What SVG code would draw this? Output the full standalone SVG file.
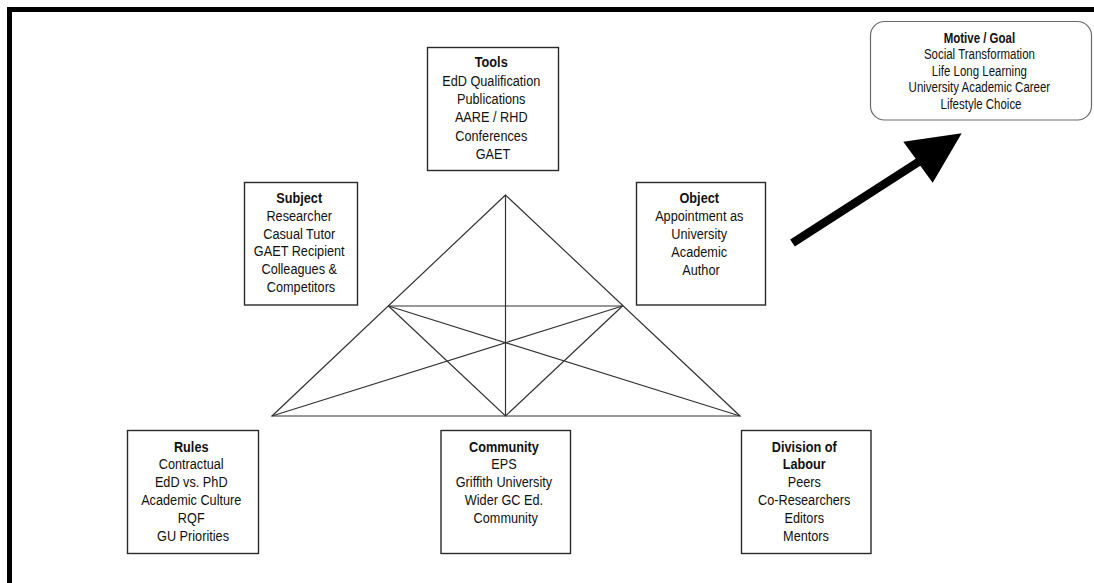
<svg xmlns="http://www.w3.org/2000/svg" width="1094" height="583" viewBox="0 0 1094 583">
  <style>
    .box { fill: #fff; stroke: #2a2a2a; stroke-width: 1.4; }
    .goal { fill: #fff; stroke: #6a6a6a; stroke-width: 1.2; }
    .t { font-family: "Liberation Sans", Arial, sans-serif; font-size: 15.5px; text-anchor: middle; fill: #111; }
    .s { font-size: 14px; }
    .h { font-weight: bold; }
    .edge { stroke: #333; stroke-width: 1.2; fill: none; }
  </style>

  <rect width="1094" height="583" fill="#fff"/>
  <!-- page frame (top and left edges) -->
  <path d="M9.5 583 V9.5 H1094" fill="none" stroke="#000" stroke-width="5"/>

  <!-- activity triangle -->
  <g id="connectors">
    <path class="edge" d="M505.5 195 L272 416 L740 416 Z"/>
    <path class="edge" d="M505.5 195 V416"/>
    <path class="edge" d="M388.5 306 H622.5"/>
    <path class="edge" d="M388.5 306 L740 416 M622.5 306 L272 416"/>
    <path class="edge" d="M388.5 306 L505.5 416 L622.5 306"/>
    <!-- arrow towards the motive -->
    <polygon fill="#000" points="790.2,239.5 915.7,158.7 903.3,141.7 961.7,133.3 932.7,182.7 920.3,165.7 794.8,246.5"/>
  </g>

  <g id="tools">
    <rect class="box" x="427.5" y="47.5" width="131" height="123"/>
    <g transform="translate(493 0) scale(0.82 1)">
      <text class="t">
        <tspan class="h" x="0" y="67.5">Tools</tspan>
        <tspan x="0" y="85.8">EdD Qualification</tspan>
        <tspan x="0" y="104.1">Publications</tspan>
        <tspan x="0" y="122.4">AARE / RHD</tspan>
        <tspan x="0" y="140.7">Conferences</tspan>
        <tspan x="0" y="159">GAET</tspan>
      </text>
    </g>
  </g>

  <g id="subject">
    <rect class="box" x="244.5" y="182.5" width="113" height="122.5"/>
    <g transform="translate(301 0) scale(0.82 1)">
      <text class="t">
        <tspan class="h" x="0" y="203">Subject</tspan>
        <tspan x="0" y="220.8">Researcher</tspan>
        <tspan x="0" y="238.6">Casual Tutor</tspan>
        <tspan x="0" y="256.4">GAET Recipient</tspan>
        <tspan x="0" y="274.2">Colleagues &amp;</tspan>
        <tspan x="0" y="292">Competitors</tspan>
      </text>
    </g>
  </g>

  <g id="object">
    <rect class="box" x="636.5" y="182.5" width="129" height="122.5"/>
    <g transform="translate(701 0) scale(0.82 1)">
      <text class="t">
        <tspan class="h" x="0" y="203.3">Object</tspan>
        <tspan x="0" y="221.3">Appointment as</tspan>
        <tspan x="0" y="239.3">University</tspan>
        <tspan x="0" y="257.3">Academic</tspan>
        <tspan x="0" y="275.3">Author</tspan>
      </text>
    </g>
  </g>

  <g id="motive">
    <rect class="goal" x="870.5" y="21.5" width="221" height="98.5" rx="14" ry="14"/>
    <g transform="translate(981 0) scale(0.82 1)">
      <text class="t s">
        <tspan class="h" x="0" y="42.7">Motive / Goal</tspan>
        <tspan x="0" y="59.3">Social Transformation</tspan>
        <tspan x="0" y="75.9">Life Long Learning</tspan>
        <tspan x="0" y="92.5">University Academic Career</tspan>
        <tspan x="0" y="109.1">Lifestyle Choice</tspan>
      </text>
    </g>
  </g>

  <g id="rules">
    <rect class="box" x="127.5" y="430.5" width="131" height="123"/>
    <g transform="translate(193 0) scale(0.82 1)">
      <text class="t">
        <tspan class="h" x="0" y="451.7">Rules</tspan>
        <tspan x="0" y="469.5">Contractual</tspan>
        <tspan x="0" y="487.3">EdD vs. PhD</tspan>
        <tspan x="0" y="505.1">Academic Culture</tspan>
        <tspan x="0" y="522.9">RQF</tspan>
        <tspan x="0" y="540.7">GU Priorities</tspan>
      </text>
    </g>
  </g>

  <g id="community">
    <rect class="box" x="441" y="430.5" width="129.5" height="123"/>
    <g transform="translate(505.7 0) scale(0.82 1)">
      <text class="t">
        <tspan class="h" x="0" y="451.7">Community</tspan>
        <tspan x="0" y="469.5">EPS</tspan>
        <tspan x="0" y="487.3">Griffith University</tspan>
        <tspan x="0" y="505.1">Wider GC Ed.</tspan>
        <tspan x="0" y="522.9">Community</tspan>
      </text>
    </g>
  </g>

  <g id="division">
    <rect class="box" x="741.5" y="430.5" width="129.5" height="123"/>
    <g transform="translate(806 0) scale(0.82 1)">
      <text class="t">
        <tspan class="h" x="0" y="451.7">Division of</tspan>
        <tspan class="h" x="0" y="469.5">Labour</tspan>
        <tspan x="0" y="487.3">Peers</tspan>
        <tspan x="0" y="505.1">Co-Researchers</tspan>
        <tspan x="0" y="522.9">Editors</tspan>
        <tspan x="0" y="540.7">Mentors</tspan>
      </text>
    </g>
  </g>
</svg>
